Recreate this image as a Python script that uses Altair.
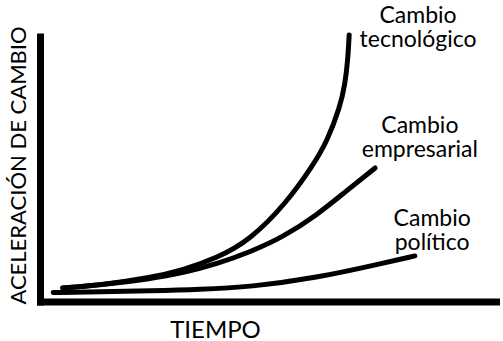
import altair as alt
import pandas as pd

# Curves (time in 0-100, acceleration in 0-100)
tec_x = [5.0, 13.2, 24.1, 31.4, 38.8, 46.1, 54.2, 59.9, 62.9, 65.8, 66.9, 67.5, 67.8]
tec_y = [5.1, 6.2, 8.9, 11.9, 16.4, 23.2, 37.5, 51.5, 60.2, 73.4, 82.1, 91.1, 100.6]

emp_x = [5.0, 13.2, 24.1, 31.4, 38.8, 46.1, 53.3, 60.7, 66.9, 73.5]
emp_y = [5.1, 6.2, 8.5, 10.8, 14.2, 18.7, 24.3, 32.6, 41.3, 50.4]

pol_x = [2.9, 13.2, 24.1, 35.1, 46.1, 60.7, 74.6, 82.2]
pol_y = [3.4, 3.6, 4.0, 4.5, 5.5, 8.9, 14.2, 17.2]

series_names = ["Cambio tecnológico", "Cambio empresarial", "Cambio político"]

# Annotation labels (two lines each)
label_text = ["Cambio\ntecnológico", "Cambio\nempresarial", "Cambio\npolítico"]
label_x = [82.9, 83.3, 86.0]
label_y = [105.1, 63.6, 28.5]

rows = []
for name, xs, ys in zip(series_names, [tec_x, emp_x, pol_x], [tec_y, emp_y, pol_y]):
    for i, (xv, yv) in enumerate(zip(xs, ys)):
        rows.append({"serie": name, "t": xv, "a": yv, "i": i})
curves = pd.DataFrame(rows)
labels = pd.DataFrame({"text": label_text, "t": label_x, "a": label_y})

FONT = "Lato"

xscale = alt.Scale(domain=[0, 100], nice=False, zero=False)
yscale = alt.Scale(domain=[0, 100], nice=False, zero=False)

xaxis = alt.Axis(
    title="TIEMPO", domain=True, domainWidth=7, domainColor="black", domainCap="square",
    ticks=False, labels=False, grid=False,
    titleFont=FONT, titleFontSize=24, titleFontWeight="normal", titleColor="black",
    titleX=175, titleY=35.5, titleBaseline="alphabetic", titleAlign="center",
)
yaxis = alt.Axis(
    title="ACELERACIÓN DE CAMBIO", domain=True, domainWidth=7, domainColor="black", domainCap="square",
    ticks=False, labels=False, grid=False,
    titleFont=FONT, titleFontSize=22, titleFontWeight="normal", titleColor="black",
    titleAngle=270, titleX=-15, titleY=128.5, titleBaseline="alphabetic", titleAlign="center",
)

lines = alt.Chart(curves).mark_line(
    strokeWidth=5, strokeCap="round", strokeJoin="round", interpolate="basis", color="black", clip=False
).encode(
    x=alt.X("t:Q", scale=xscale, axis=xaxis),
    y=alt.Y("a:Q", scale=yscale, axis=yaxis),
    detail="serie:N",
    order="i:Q",
)

texts = alt.Chart(labels).mark_text(
    font=FONT, fontSize=23, align="center", baseline="alphabetic", color="black",
    lineBreak="\n", lineHeight=24
).encode(
    x=alt.X("t:Q", scale=xscale),
    y=alt.Y("a:Q", scale=yscale),
    text="text:N",
)

chart = alt.layer(lines, texts).properties(
    width=456, height=265,
    autosize=alt.AutoSizeParams(type="none"),
    padding={"left": 40, "top": 36.5, "right": 7, "bottom": 39.5},
    background="white",
).configure_view(strokeWidth=0)

chart.save("out.html", embed_options={"renderer": "svg", "actions": False})
